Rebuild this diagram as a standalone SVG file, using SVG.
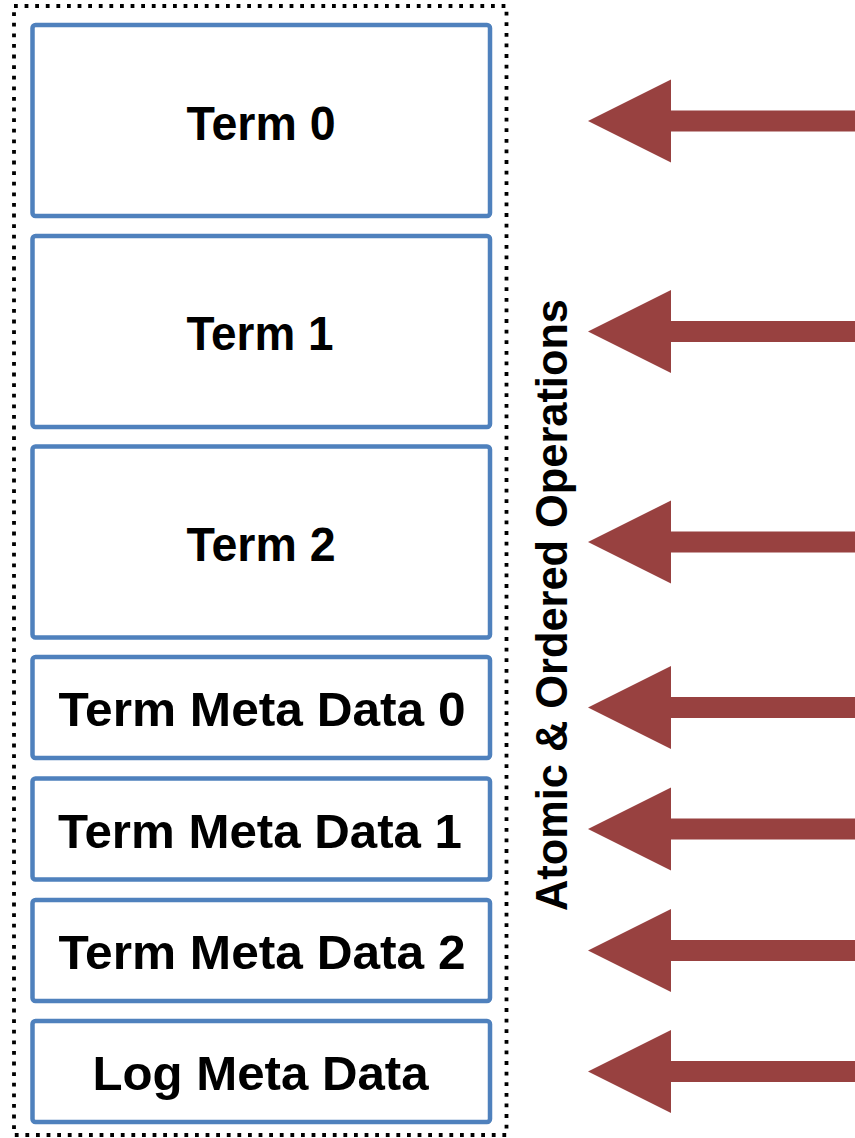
<svg xmlns="http://www.w3.org/2000/svg" width="855" height="1138" viewBox="0 0 855 1138">
  <style>
    .frame { fill: none; stroke: #000; stroke-width: 3.8; stroke-dasharray: 3.8 6.8; }
    .box rect { fill: #fff; stroke: #4F81BD; stroke-width: 4.5; }
    .box text { font-family: "Liberation Sans", Arial, sans-serif; font-weight: bold; font-size: 48px; fill: #000; text-anchor: middle; }
    .side { font-family: "Liberation Sans", Arial, sans-serif; font-weight: bold; font-size: 44px; fill: #000; text-anchor: middle; }
    .arrow { fill: #984140; }
  </style>
  <defs>
    <!-- block arrow pointing left, tip at origin -->
    <path id="blockArrow" d="M0,0 L83,-41.5 L83,-10.5 L270,-10.5 L270,10.5 L83,10.5 L83,41.5 Z"/>
  </defs>

  <rect width="855" height="1138" fill="#fff"/>

  <!-- dotted outline around the stack -->
  <rect class="frame" x="14" y="6" width="492.5" height="1129"/>

  <g id="term0" class="box">
    <rect x="32.5" y="25" width="457.5" height="191" rx="3"/>
    <text x="261" y="139.5" textLength="149" lengthAdjust="spacingAndGlyphs">Term 0</text>
  </g>
  <g id="term1" class="box">
    <rect x="32.5" y="236" width="457.5" height="191" rx="3"/>
    <text x="260" y="350" textLength="147" lengthAdjust="spacingAndGlyphs">Term 1</text>
  </g>
  <g id="term2" class="box">
    <rect x="32.5" y="446.5" width="457.5" height="191" rx="3"/>
    <text x="261" y="560.5" textLength="149" lengthAdjust="spacingAndGlyphs">Term 2</text>
  </g>
  <g id="termMeta0" class="box">
    <rect x="32.5" y="657" width="457.5" height="101" rx="3"/>
    <text x="262" y="726" textLength="407" lengthAdjust="spacingAndGlyphs">Term Meta Data 0</text>
  </g>
  <g id="termMeta1" class="box">
    <rect x="32.5" y="778.5" width="457.5" height="101" rx="3"/>
    <text x="260" y="847.5" textLength="404" lengthAdjust="spacingAndGlyphs">Term Meta Data 1</text>
  </g>
  <g id="termMeta2" class="box">
    <rect x="32.5" y="900" width="457.5" height="101" rx="3"/>
    <text x="262" y="969" textLength="407" lengthAdjust="spacingAndGlyphs">Term Meta Data 2</text>
  </g>
  <g id="logMeta" class="box">
    <rect x="32.5" y="1021" width="457.5" height="101" rx="3"/>
    <text x="260.5" y="1089.5" textLength="336" lengthAdjust="spacingAndGlyphs">Log Meta Data</text>
  </g>

  <g id="sideLabel">
    <text class="side" transform="translate(567,605) rotate(-90)" x="0" y="0" textLength="612" lengthAdjust="spacingAndGlyphs">Atomic &amp; Ordered Operations</text>
  </g>

  <g id="connectors" class="arrow">
    <use href="#blockArrow" x="588" y="121"/>
    <use href="#blockArrow" x="588" y="331.5"/>
    <use href="#blockArrow" x="588" y="542"/>
    <use href="#blockArrow" x="588" y="707.5"/>
    <use href="#blockArrow" x="588" y="829"/>
    <use href="#blockArrow" x="588" y="950.5"/>
    <use href="#blockArrow" x="588" y="1071.5"/>
  </g>
</svg>
